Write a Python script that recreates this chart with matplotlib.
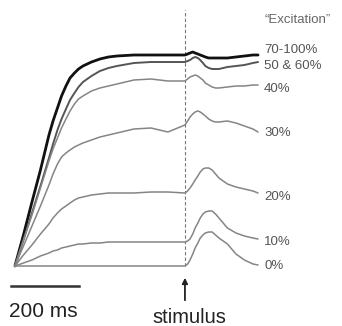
import matplotlib
matplotlib.use("Agg")
import matplotlib.pyplot as plt

# time points (ms); stimulus at 500 ms
time_ms = [0, 25, 50, 75, 100, 112, 125, 137, 150, 162, 175, 187, 200, 225, 250, 275,
           300, 350, 400, 450, 500, 508, 515, 523, 530, 538, 545, 553, 560, 570,
           580, 590, 600, 625, 650, 675, 700, 715]

exc_70_100 = [0, 31, 64, 96, 131, 145, 158, 170, 180, 188, 193, 197, 200, 204, 207, 209,
              210, 211, 211, 211, 211, 212, 213, 214, 213, 212, 211, 210, 209, 208,
              208, 208, 208, 208, 209, 210, 211, 211]
exc_50_60 = [0, 26, 53, 80, 108, 122, 136, 147, 157, 166, 173, 179, 184, 190, 195, 198,
             200, 203, 204, 204, 204, 205, 206, 208, 209, 208, 206, 203, 200, 198,
             197, 197, 197, 199, 200, 201, 203, 204]
exc_40 = [0, 26, 51, 78, 105, 117, 128, 138, 147, 155, 162, 167, 170, 175, 178, 180,
          182, 186, 187, 185, 185, 187, 189, 190, 191, 190, 188, 186, 183, 181,
          179, 178, 178, 179, 180, 180, 181, 181]
exc_30 = [0, 20, 40, 60, 81, 92, 102, 109, 113, 116, 119, 121, 123, 126, 129, 131,
          133, 137, 138, 134, 141, 145, 149, 152, 154, 155, 154, 152, 150, 147,
          145, 144, 144, 145, 143, 140, 137, 134]
exc_20 = [0, 11, 21, 32, 42, 48, 53, 57, 60, 63, 66, 68, 69, 71, 72, 73,
          73, 73, 74, 74, 73, 75, 78, 82, 86, 90, 94, 97, 98, 98,
          96, 92, 88, 82, 79, 77, 75, 73]
exc_10 = [0, 3, 6, 10, 13, 15, 16, 18, 19, 20, 21, 22, 22, 23, 23, 24,
          24, 24, 24, 24, 24, 25, 27, 32, 38, 43, 48, 52, 54, 55,
          55, 52, 48, 38, 33, 30, 28, 27]
exc_0 = [0, 0, 0, 0, 0, 0, 0, 0, 0, 0, 0, 0, 0, 0, 0, 0,
         0, 0, 0, 0, 0, 2, 6, 12, 18, 23, 28, 31, 33, 34,
         34, 31, 28, 22, 12, 6, 2, 1]

series = [exc_70_100, exc_50_60, exc_40, exc_30, exc_20, exc_10, exc_0]
labels = ["70-100%", "50 & 60%", "40%", "30%", "20%", "10%", "0%"]
label_y = [216, 200, 177, 133, 69, 24, 0]
colors = ["#111111", "#555555", "#858585", "#858585", "#858585", "#858585", "#858585"]
widths = [2.0, 1.4, 1.1, 1.1, 1.1, 1.1, 1.1]

stim_t = 500
scale_ms = 200

fig = plt.figure(figsize=(3.42, 3.26), dpi=100)
ax = fig.add_axes([0, 0, 1, 1])
ax.set_xlim(-44, 962)
ax.set_ylim(-60, 266)
ax.axis("off")

# dashed stimulus line
ax.plot([stim_t, stim_t], [0, 256], ls=(0, (3, 2)), color="#777777", lw=0.8, zorder=1)

for s, c, w in zip(series, colors, widths):
    ax.plot(time_ms, s, color=c, lw=w, solid_capstyle="round",
            solid_joinstyle="round", zorder=3)

for lab, y in zip(labels, label_y):
    ax.text(733, y, lab, fontsize=9.5, color="#555555", va="center", ha="left",
            family="Liberation Sans")
ax.text(733, 246, "\u201cExcitation\u201d", fontsize=9.5, color="#666666", va="center",
        ha="left", family="Liberation Sans")

# scale bar
ax.plot([-12, -12 + scale_ms], [-20, -20], color="#333333", lw=1.8)
ax.text(82, -51, "200 ms", fontsize=15, color="#222222", ha="center", va="baseline",
        family="Liberation Sans")

# stimulus arrow
ax.annotate("", xy=(stim_t, -9), xytext=(stim_t, -37),
            arrowprops=dict(arrowstyle="-|>", color="#222222", lw=1.3,
                            mutation_scale=8))
ax.text(512, -57, "stimulus", fontsize=14.5, color="#222222", ha="center", va="baseline",
        family="Liberation Sans")

fig.savefig("out.png", dpi=100)
